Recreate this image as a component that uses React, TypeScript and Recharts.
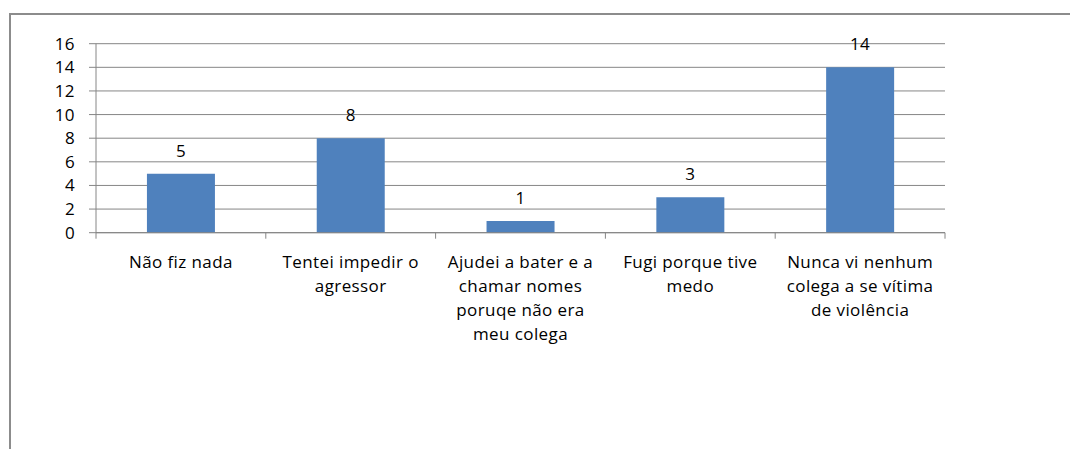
import React from "react";
import { BarChart, Bar, XAxis, YAxis, CartesianGrid, LabelList } from "recharts";

const categories = [
  "Não fiz nada",
  "Tentei impedir o agressor",
  "Ajudei a bater e a chamar nomes poruqe não era meu colega",
  "Fugi porque tive medo",
  "Nunca vi nenhum colega a se vítima de violência",
];
const categoryLines = [
  ["Não fiz nada"],
  ["Tentei impedir o", "agressor"],
  ["Ajudei a bater e a", "chamar nomes", "poruqe não era", "meu colega"],
  ["Fugi porque tive", "medo"],
  ["Nunca vi nenhum", "colega a se vítima", "de violência"],
];
const values = [5, 8, 1, 3, 14];
const yTicks = [0, 2, 4, 6, 8, 10, 12, 14, 16];

const data = categories.map((c, i) => ({ name: c, value: values[i] }));

const FONT = "'Open Sans', sans-serif";
const FS = 17;
const LS = 0.4;
const GRID = "#868686";

const CategoryTick = (props: any) => {
  const { x, y, payload } = props;
  const idx = payload.index;
  const half = payload.offset ?? 0;
  const lines = categoryLines[idx] || [String(payload.value)];
  const isLast = idx === categories.length - 1;
  return (
    <g>
      <line x1={x - half} y1={y} x2={x - half} y2={y + 6} stroke={GRID} strokeWidth={1} />
      {isLast && <line x1={x + half} y1={y} x2={x + half} y2={y + 6} stroke={GRID} strokeWidth={1} />}
      <text
        x={x}
        y={y}
        textAnchor="middle"
        fontFamily={FONT}
        fontSize={FS}
        letterSpacing={LS}
        fill="#000"
      >
        {lines.map((l, i) => (
          <tspan key={i} x={x} dy={i === 0 ? 35 : 24}>
            {l}
          </tspan>
        ))}
      </text>
    </g>
  );
};

export default function App() {
  return (
    <div style={{ position: "relative", width: 1070, height: 441, overflow: "hidden" }}>
      <div
        style={{
          position: "absolute",
          left: 1,
          top: 5,
          width: 1100,
          height: 500,
          borderLeft: "2px solid #8c8c8c",
          borderTop: "2px solid #8c8c8c",
        }}
      />
      <div style={{ position: "absolute", left: 0, top: 0 }}>
        <BarChart
          width={1070}
          height={441}
          data={data}
          margin={{ top: 35.7, right: 133, bottom: 208.3, left: 0 }}
          barCategoryGap="30%"
        >
          <CartesianGrid horizontal vertical={false} stroke={GRID} strokeDasharray="" />
          <XAxis
            dataKey="name"
            axisLine={{ stroke: GRID }}
            tickLine={false}
            tick={<CategoryTick />}
            interval={0}
            height={8}
            tickSize={0}
            tickMargin={0}
          />
          <YAxis
            domain={[0, 16]}
            ticks={yTicks}
            width={88}
            tickSize={7}
            tickMargin={14}
            axisLine={{ stroke: GRID }}
            tickLine={{ stroke: GRID }}
            tick={{ fontFamily: FONT, fontSize: FS, fill: "#000", letterSpacing: LS }}
            interval={0}
          />
          <Bar dataKey="value" fill="#4F81BD" isAnimationActive={false}>
            <LabelList
              dataKey="value"
              position="top"
              offset={17}
              style={{ fontFamily: FONT, fontSize: FS, fill: "#000", letterSpacing: LS }}
            />
          </Bar>
        </BarChart>
      </div>
    </div>
  );
}
